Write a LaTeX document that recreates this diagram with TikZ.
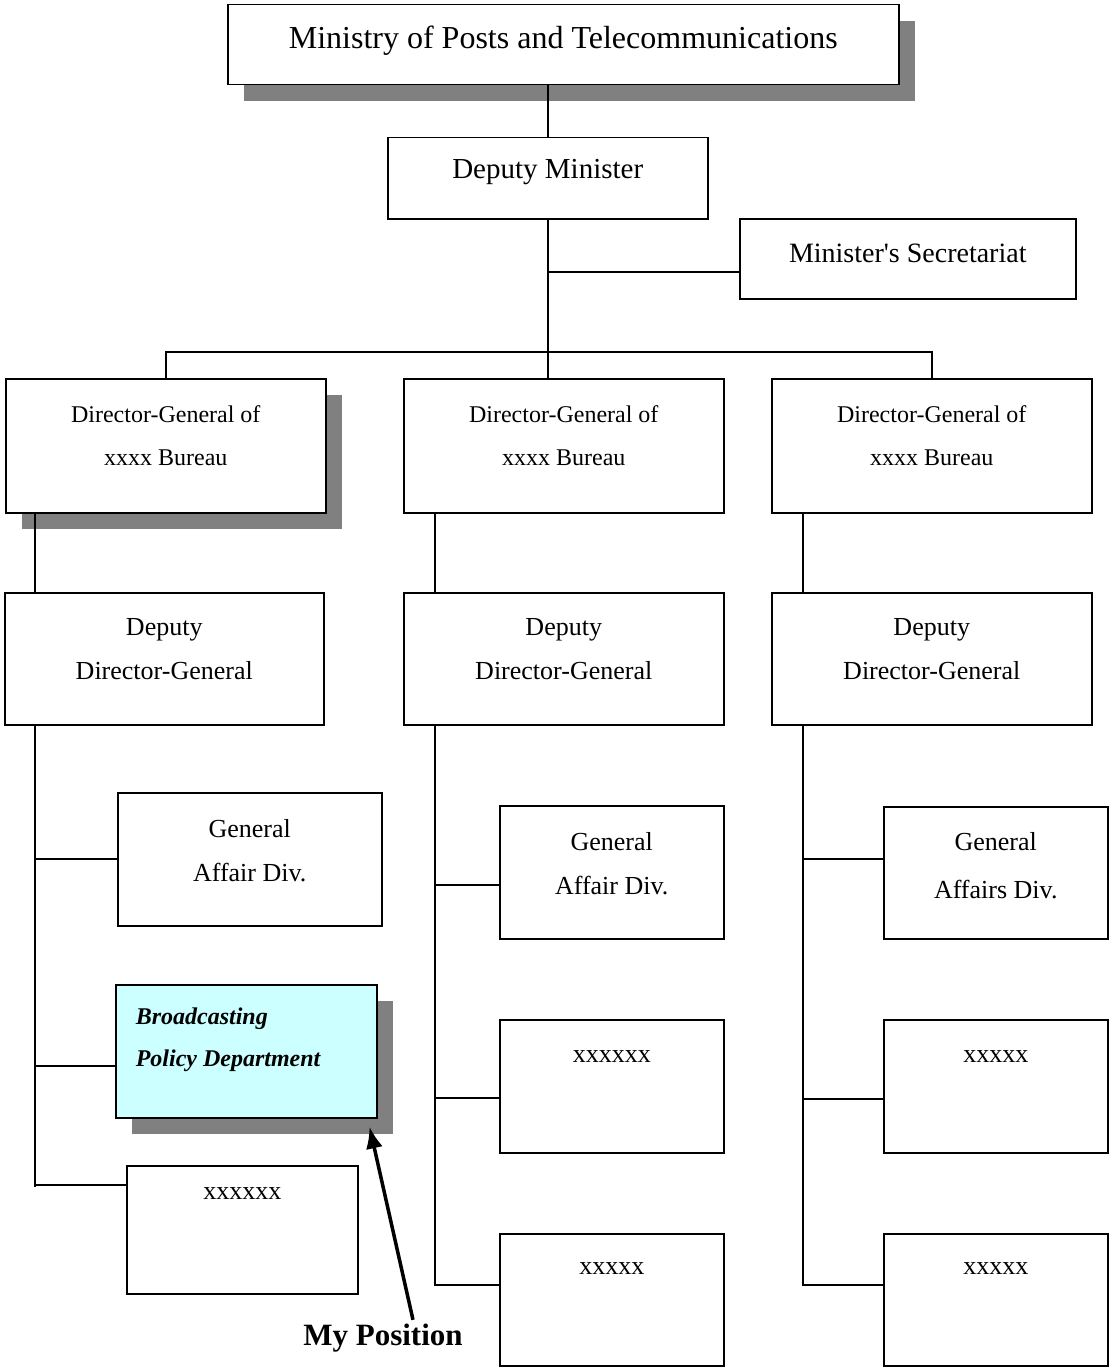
\documentclass[tikz,border=0pt]{standalone}
\usepackage{fontspec}
\setmainfont{Liberation Serif}
\usetikzlibrary{shadows,arrows.meta}
\definecolor{shadowgrey}{RGB}{128,128,128}
\definecolor{bcfill}{RGB}{204,255,255}

\begin{document}
\begin{tikzpicture}[x=1pt, y=-1pt, line width=1.5pt,
	box/.style={draw, fill=white, inner sep=0pt, anchor=north west},
	shad/.style={general shadow={shadow xshift=16pt, shadow yshift=-16pt, fill=shadowgrey}},
	lbl/.style={inner sep=0pt, align=center, font=\fontsize{26}{44}\selectfont}]
	\useasboundingbox (0,0) rectangle (1109,1367);

	% ministry
	\node[box, shad, minimum width=671, minimum height=80,
		label={[lbl, font=\fontsize{32}{36}\selectfont, yshift=4pt]center:Ministry of Posts and Telecommunications}] (min) at (227,4) {};
	\node[box, minimum width=320, minimum height=81,
		label={[lbl, font=\fontsize{29}{36}\selectfont, yshift=6pt]center:Deputy Minister}] (dm) at (387,137) {};
	\node[box, minimum width=336, minimum height=80,
		label={[lbl, font=\fontsize{28}{36}\selectfont, yshift=5pt]center:Minister\textquotesingle s Secretariat}] (sec) at (739,218) {};

	% bureaus
	\node[box, shad, minimum width=320, minimum height=134,
		label={[lbl, font=\fontsize{24}{43}\selectfont, yshift=10pt]center:{Director-General of\\xxxx Bureau}}] (dg1) at (5,378) {};
	\node[box, minimum width=320, minimum height=134,
		label={[lbl, font=\fontsize{24}{43}\selectfont, yshift=10pt]center:{Director-General of\\xxxx Bureau}}] (dg2) at (403,378) {};
	\node[box, minimum width=320, minimum height=134,
		label={[lbl, font=\fontsize{24}{43}\selectfont, yshift=10pt]center:{Director-General of\\xxxx Bureau}}] (dg3) at (771,378) {};

	\node[box, minimum width=319, minimum height=132,
		label={[lbl, yshift=10pt]center:{Deputy\\Director-General}}] (ddg1) at (4,592) {};
	\node[box, minimum width=320, minimum height=132,
		label={[lbl, yshift=10pt]center:{Deputy\\Director-General}}] (ddg2) at (403,592) {};
	\node[box, minimum width=320, minimum height=132,
		label={[lbl, yshift=10pt]center:{Deputy\\Director-General}}] (ddg3) at (771,592) {};

	% divisions
	\node[box, minimum width=264, minimum height=133,
		label={[lbl, yshift=9pt]center:{General\\Affair Div.}}] (ga1) at (117,792) {};
	\node[box, shad, fill=bcfill, minimum width=261, minimum height=133,
		label={[lbl, font=\fontsize{24}{42}\selectfont\bfseries\itshape, align=left, anchor=west, xshift=20pt, yshift=11pt]west:{Broadcasting\\Policy Department}}] (bc) at (115,984) {};
	\node[box, minimum width=231, minimum height=128,
		label={[lbl, yshift=36pt]center:xxxxxx}] (xa1) at (126,1165) {};

	\node[box, minimum width=224, minimum height=133,
		label={[lbl, yshift=9pt]center:{General\\Affair Div.}}] (ga2) at (499,805) {};
	\node[box, minimum width=224, minimum height=133,
		label={[lbl, yshift=30pt]center:xxxxxx}] (xb2) at (499,1019) {};
	\node[box, minimum width=224, minimum height=132,
		label={[lbl, yshift=31pt]center:xxxxx}] (xc2) at (499,1233) {};

	\node[box, minimum width=224, minimum height=132,
		label={[lbl, font=\fontsize{26}{48}\selectfont, yshift=7pt]center:{General\\Affairs Div.}}] (ga3) at (883,806) {};
	\node[box, minimum width=224, minimum height=133,
		label={[lbl, yshift=30pt]center:xxxxx}] (xb3) at (883,1019) {};
	\node[box, minimum width=224, minimum height=132,
		label={[lbl, yshift=31pt]center:xxxxx}] (xc3) at (883,1233) {};

	% lines
	\coordinate (bar) at (dm.south |- 0,352);
	\coordinate (s1) at (35,0);
	\coordinate (s2) at (435,0);
	\coordinate (s3) at (803,0);

	\draw (dm.north |- min.south) -- (dm.north);
	\draw (dm.south) -- (bar);
	\draw (dm.south |- 0,272) -- (sec.west |- 0,272);
	\draw (dg1.north) |- (bar) -| (dg3.north);
	\draw (bar) -- (bar |- dg2.north);

	\foreach \s/\a/\b in {s1/dg1/ddg1, s2/dg2/ddg2, s3/dg3/ddg3}
		\draw (\s |- \a.south) -- (\s |- \b.north);

	\draw (s1 |- ddg1.south) -- (s1 |- 0,1187);
	\draw (s2 |- ddg2.south) |- (xc2.west |- 0,1285);
	\draw (s3 |- ddg3.south) |- (xc3.west |- 0,1285);
	\foreach \s/\b/\y in {s1/ga1/859, s1/bc/1066, s1/xa1/1185, s2/ga2/885, s2/xb2/1098, s3/ga3/859, s3/xb3/1099}
		\draw (\s |- 0,\y) -- (\b.west |- 0,\y);

	% my position
	\node[font=\fontsize{31}{36}\selectfont\bfseries] (mypos) at (383,1338) {My Position};
	\draw[line width=3.5pt, -{Latex[length=22pt,width=17pt]}] ([xshift=30pt]mypos.north) -- ([shift={(-8,8)}]bc.south east);
\end{tikzpicture}
\end{document}
